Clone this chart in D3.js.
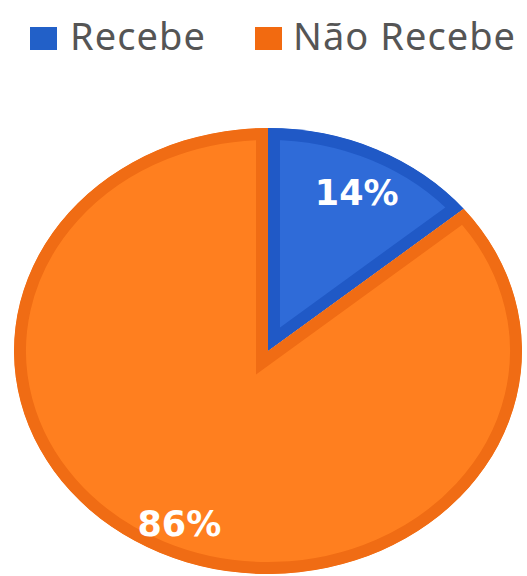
<!DOCTYPE html>
<html>
<head>
<meta charset="utf-8">
<script src="https://cdn.jsdelivr.net/npm/d3@7"></script>
<style>
  html, body { margin: 0; padding: 0; background: #fff; }
  svg { display: block; }
</style>
</head>
<body>
<svg id="chart" width="527" height="576"></svg>
<script>
// Share of respondents who receive / do not receive
const categories = ["Recebe", "Não Recebe"];
const values = [14, 86];
const valueLabels = ["14%", "86%"];

const width = 527, height = 576;
const cx = 268, cy = 351;
const rx = 254, ry = 223;     // slightly flattened pie
const band = 12;              // inner border width of each slice

const fillColor = d3.scaleOrdinal().domain(categories).range(["#2f6bd8", "#ff7f1f"]);
const edgeColor = d3.scaleOrdinal().domain(categories).range(["#2059c6", "#f06c14"]);
const keyColor  = d3.scaleOrdinal().domain(categories).range(["#2260c8", "#f26a10"]);

const svg = d3.select("#chart");

const pie = d3.pie().sort(null).value(d => d)(values);
const arc = d3.arc().innerRadius(0).outerRadius(rx);
const labelArc = d3.arc().innerRadius(rx * 0.82).outerRadius(rx * 0.82);

const g = svg.append("g")
  .attr("transform", `translate(${cx},${cy}) scale(1,${ry / rx})`);

const defs = svg.append("defs");
pie.forEach((p, i) => {
  defs.append("clipPath").attr("id", "slice-clip-" + i)
    .append("path").attr("d", arc(p));
});

g.selectAll("path.slice")
  .data(pie)
  .join("path")
  .attr("class", "slice")
  .attr("d", arc)
  .attr("clip-path", (d, i) => `url(#slice-clip-${i})`)
  .attr("fill", (d, i) => fillColor(categories[i]))
  .attr("stroke", (d, i) => edgeColor(categories[i]))
  .attr("stroke-width", band * 2)
  .attr("stroke-linejoin", "miter")
  .attr("stroke-miterlimit", 10)
  .attr("vector-effect", "non-scaling-stroke");

// value labels
svg.selectAll("text.value")
  .data(pie)
  .join("text")
  .attr("class", "value")
  .attr("x", d => cx + labelArc.centroid(d)[0])
  .attr("y", d => cy + labelArc.centroid(d)[1] * ry / rx + 7)
  .attr("text-anchor", "middle")
  .attr("dy", "0.36em")
  .attr("fill", "#ffffff")
  .attr("font-family", "'DejaVu Sans', Verdana, sans-serif")
  .attr("font-weight", "bold")
  .attr("font-size", 35)
  .text((d, i) => valueLabels[i]);

// legend
const legendItems = [
  { x: 30, textX: 70, textW: 135 },
  { x: 255, textX: 293, textW: 222 }
];
const legend = svg.append("g");
categories.forEach((c, i) => {
  const it = legendItems[i];
  legend.append("rect")
    .attr("x", it.x).attr("y", 27)
    .attr("width", 27).attr("height", 23)
    .attr("fill", keyColor(c));
  legend.append("text")
    .attr("x", it.textX).attr("y", 50)
    .attr("fill", "#555555")
    .attr("font-family", "'Noto Sans', 'Open Sans', sans-serif")
    .attr("font-size", 38)
    .attr("textLength", it.textW)
    .attr("lengthAdjust", "spacing")
    .text(c);
});
</script>
</body>
</html>
